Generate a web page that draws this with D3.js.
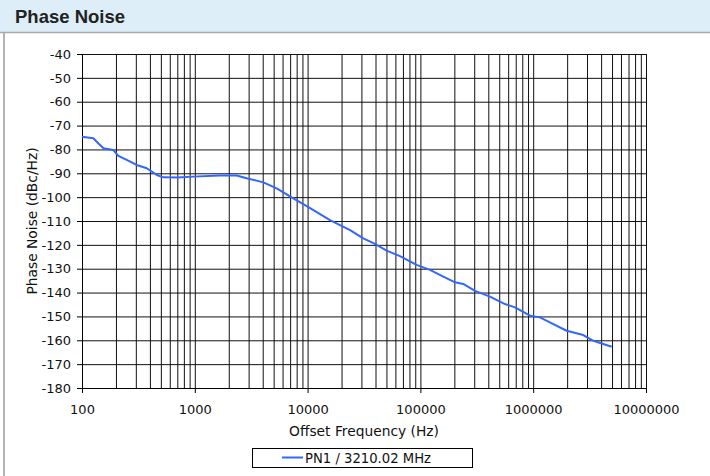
<!DOCTYPE html>
<html>
<head>
<meta charset="utf-8">
<script src="https://cdn.jsdelivr.net/npm/d3@7"></script>
<style>
  body { margin: 0; background: #fff; }
  svg { display: block; }
  .tick text { font-family: "DejaVu Sans", Verdana, sans-serif; font-size: 13px; fill: #111; }
</style>
</head>
<body>
<div id="chart"></div>
<script>
// offset frequencies (Hz) and phase noise (dBc/Hz)
const freqs = [100, 126, 140, 155, 189, 210, 249, 305, 375, 460, 526, 700, 970, 1670, 2350,
  2880, 4050, 5320, 7470, 10000, 15800, 23800, 31200, 39500, 50200, 65900, 92500, 121600,
  159600, 202800, 239900, 304800, 414000, 562300, 690200, 937600, 1148000, 1507000,
  1982000, 2780000, 3412000, 4966000];
const noise = [-74.7, -75.3, -77.5, -79.5, -80.2, -82.7, -84.4, -86.5, -87.9, -90.7, -91.7, -91.8, -91.4, -90.9, -90.9,
  -92.1, -93.8, -96.3, -100.5, -104, -109.6, -113.8, -117.3, -119.6, -122.4, -124.7, -128.4, -130.5,
  -133.3, -135.7, -136.4, -139.3, -141.7, -144.8, -146.2, -149.7, -150.4, -153.2,
  -156.0, -157.8, -160.2, -162.7];
const xTicks = [100, 1000, 10000, 100000, 1000000, 10000000];
const yTicks = [-180, -170, -160, -150, -140, -130, -120, -110, -100, -90, -80, -70, -60, -50, -40];
const seriesName = "PN1 / 3210.02 MHz";

const svgWidth = 710, svgHeight = 476;
const margin = { top: 54, right: 64, bottom: 88, left: 82 };
const width = svgWidth - margin.left - margin.right;
const height = svgHeight - margin.top - margin.bottom;

const svg = d3.select("#chart").append("svg")
  .attr("width", svgWidth)
  .attr("height", svgHeight);

// panel frame: title bar + left border
svg.append("rect").attr("x", 0).attr("y", 0).attr("width", svgWidth).attr("height", 32)
  .attr("fill", "#deeef8");
svg.append("line").attr("x1", 0).attr("x2", svgWidth).attr("y1", 32.5).attr("y2", 32.5)
  .attr("stroke", "#a8a8a8").attr("stroke-width", 1.5);
svg.append("rect").attr("x", 3).attr("y", 33).attr("width", 2).attr("height", svgHeight - 33)
  .attr("fill", "#b4b4b4");
svg.append("text").attr("x", 15).attr("y", 23)
  .attr("font-family", "'Liberation Sans', Arial, sans-serif")
  .attr("font-weight", "bold").attr("font-size", 18.5).attr("fill", "#222")
  .text("Phase Noise");

const g = svg.append("g").attr("transform", `translate(${margin.left},${margin.top})`);

const x = d3.scaleLog().domain([100, 1e7]).range([0, width]);
const y = d3.scaleLinear().domain([-180, -40]).range([height, 0]);

// minor grid values 1..9 per decade
const gridX = [];
for (let d = 100; d < 1e7; d *= 10) for (let k = 1; k <= 9; k++) gridX.push(k * d);
gridX.push(1e7);

g.append("g").attr("class", "gridx")
  .attr("transform", `translate(0,${height})`)
  .call(d3.axisBottom(x).tickValues(gridX).tickSize(-height).tickFormat(""))
  .call(s => s.select(".domain").remove())
  .call(s => s.selectAll("line").attr("stroke", "#111"));

g.append("g").attr("class", "gridy")
  .call(d3.axisLeft(y).tickValues(yTicks).tickSize(-width).tickFormat(""))
  .call(s => s.select(".domain").remove())
  .call(s => s.selectAll("line").attr("stroke", "#111"));

// axes
g.append("g")
  .attr("transform", `translate(0,${height})`)
  .call(d3.axisBottom(x).tickValues(xTicks).tickSize(5).tickPadding(12).tickFormat(d3.format("d")))
  .call(s => s.select(".domain").attr("stroke", "#000"));

g.append("g")
  .call(d3.axisLeft(y).tickValues(yTicks).tickSize(5).tickPadding(6))
  .call(s => s.select(".domain").attr("stroke", "#000"))
  .call(s => s.selectAll(".tick text").text(d => d < 0 ? "-" + Math.abs(d) : d));

// trace
const line = d3.line().x((d, i) => x(freqs[i])).y(d => y(d));
g.append("path").datum(noise)
  .attr("fill", "none")
  .attr("stroke", "#3366ff")
  .attr("stroke-width", 2)
  .attr("stroke-linejoin", "round")
  .attr("d", line);

// axis titles
const font = "'DejaVu Sans', Verdana, sans-serif";
svg.append("text")
  .attr("x", margin.left + width / 2).attr("y", 436)
  .attr("text-anchor", "middle").attr("font-family", font).attr("font-size", 13.8)
  .attr("fill", "#111")
  .text("Offset Frequency (Hz)");

svg.append("text")
  .attr("transform", `translate(37,${margin.top + height / 2}) rotate(-90)`)
  .attr("text-anchor", "middle").attr("font-family", font).attr("font-size", 13.8)
  .attr("fill", "#111")
  .text("Phase Noise (dBc/Hz)");

// legend
const legend = svg.append("g").attr("transform", "translate(252,448)");
legend.append("rect").attr("x", 0.5).attr("y", 0.5).attr("width", 220).attr("height", 19)
  .attr("fill", "#fff").attr("stroke", "#000");
legend.append("line").attr("x1", 30).attr("x2", 51).attr("y1", 9.5).attr("y2", 9.5)
  .attr("stroke", "#3366ff").attr("stroke-width", 2);
legend.append("text").attr("x", 53).attr("y", 15)
  .attr("font-family", font).attr("font-size", 13.2).attr("fill", "#111")
  .text(seriesName);
</script>
</body>
</html>
